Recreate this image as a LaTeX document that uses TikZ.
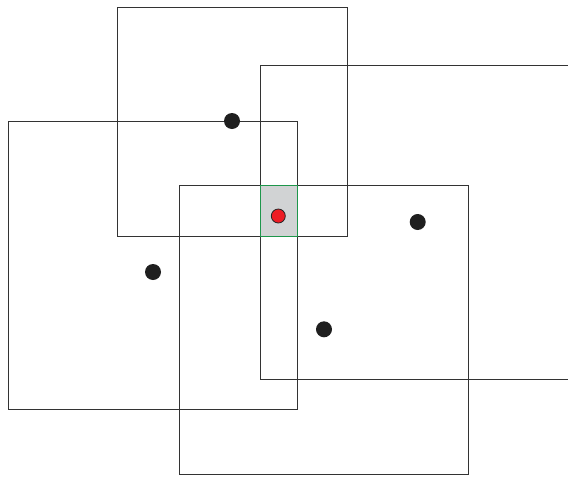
\documentclass[tikz,border=0pt]{standalone}
\usepackage{tikz}
\usetikzlibrary{positioning}

\begin{document}
\begin{tikzpicture}[x=1pt,y=-1pt,
  sq/.style={draw=black!80,line width=.9pt,inner sep=0pt,outer sep=0pt},
  dot/.style={circle,fill=black!88,inner sep=0pt,minimum size=16pt},
  hit/.style={draw=cellgreen,fill=cellgray,line width=.9pt,inner sep=0pt,outer sep=0pt}]
\definecolor{cellgreen}{RGB}{30,150,75}
\definecolor{cellgray}{RGB}{209,211,212}
\definecolor{hitred}{RGB}{237,28,36}
\useasboundingbox (0,0) rectangle (568,477);
\clip (0,0) rectangle (568,477);
% the four squares
\node[sq,minimum width=230pt,minimum height=229pt] (top) at (232,121.5) {};
\node[sq,minimum width=314pt,minimum height=314pt] (right) at (417.5,222) {};
\node[sq,minimum width=288.5pt,minimum height=288pt] (left) at (152.75,265) {};
\node[sq,minimum width=288.5pt,minimum height=289pt] (bottom) at (323.75,329.5) {};
% common cell
\node[hit,minimum width=36.5pt,minimum height=50.5pt] (cell) at (278.75,210.75) {};
% centres
\node[dot] (ctop) at (232,121) {};
\node[dot] (cleft) at (153,272) {};
\node[dot] (cright) at (417.7,222) {};
\node[dot] (cbottom) at (324,329.3) {};
\node[circle,draw=black!85,fill=hitred,line width=.8pt,inner sep=0pt,minimum size=14pt] (q) at (278.3,216) {};
\end{tikzpicture}
\end{document}
